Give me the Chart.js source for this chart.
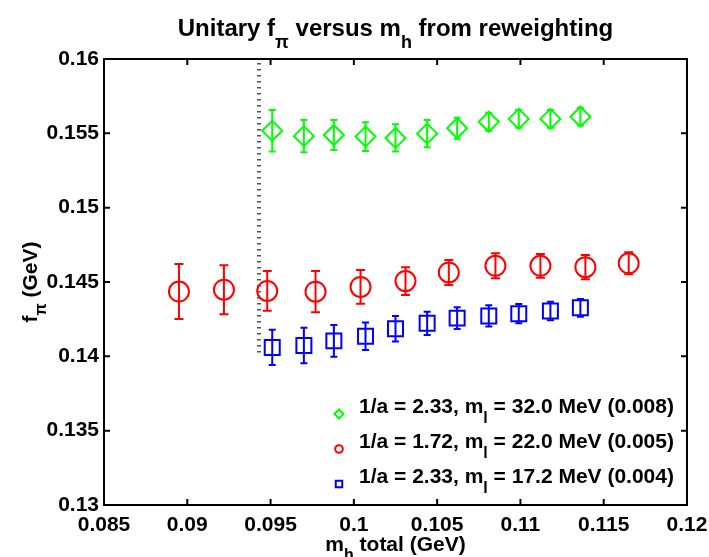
<!DOCTYPE html>
<html>
<head>
<meta charset="utf-8">
<title>Unitary f_pi versus m_h</title>
<script src="https://cdn.jsdelivr.net/npm/chart.js@4.4.0/dist/chart.umd.min.js"></script>
<style>
  html, body { margin: 0; padding: 0; background: #fff; }
</style>
</head>
<body>
<canvas id="fpiChart" width="709" height="557"></canvas>
<script>
// m_h total (GeV) for the two 1/a = 2.33 ensembles
var massA233 = [0.0951, 0.0970, 0.0988, 0.1007, 0.1025, 0.1044, 0.1062, 0.1081, 0.1099, 0.1118, 0.1136];
// m_h total (GeV) for the 1/a = 1.72 ensemble
var massA172 = [0.0895, 0.0922, 0.0948, 0.0977, 0.1004, 0.1031, 0.1057, 0.1085, 0.1112, 0.1139, 0.1165];

// f_pi (GeV) and errors
var fpiMl320 = [0.15517, 0.15481, 0.15489, 0.15478, 0.15469, 0.15498, 0.15534, 0.15578, 0.15597, 0.15597, 0.15612];
var errMl320 = [0.0014, 0.00109, 0.00101, 0.00097, 0.00092, 0.00092, 0.0007, 0.0006, 0.0006, 0.0006, 0.0006];
var fpiMl220 = [0.14436, 0.14448, 0.14440, 0.14435, 0.14467, 0.14506, 0.14564, 0.14609, 0.14609, 0.14600, 0.14626];
var errMl220 = [0.00185, 0.00165, 0.00134, 0.00139, 0.00114, 0.00093, 0.00084, 0.00084, 0.0008, 0.00082, 0.00074];
var fpiMl172 = [0.14060, 0.14073, 0.14104, 0.14135, 0.14185, 0.14222, 0.14257, 0.14272, 0.14287, 0.14305, 0.14326];
var errMl172 = [0.00118, 0.0012, 0.00107, 0.00092, 0.00086, 0.00078, 0.00073, 0.00072, 0.00065, 0.00062, 0.0006];

var legendLabels = [
  "1/a = 2.33, m_l = 32.0 MeV (0.008)",
  "1/a = 1.72, m_l = 22.0 MeV (0.005)",
  "1/a = 2.33, m_l = 17.2 MeV (0.004)"
];

var xTicks = [0.085, 0.09, 0.095, 0.1, 0.105, 0.11, 0.115, 0.12];
var yTicks = [0.13, 0.135, 0.14, 0.145, 0.15, 0.155, 0.16];

// dotted marker line
var cutMass = [0.0943, 0.0943];
var cutFpi = [0.14, 0.16];

var titleText = "Unitary f_\u03c0 versus m_h from reweighting";
var xTitleText = "m_h total (GeV)";
var yTitleText = "f_\u03c0 (GeV)";

var FONT = '"Liberation Sans", Arial, Helvetica, sans-serif';

function toPoints(xs, ys) {
  return xs.map(function (x, i) {
    return { x: x, y: ys[i] };
  });
}

function fmt(v) {
  return String(parseFloat(Number(v).toFixed(4)));
}

// text with "_x" meaning subscript x (tex style like matlab)
function drawRich(ctx, str, x, y, size, align, drop) {
  var parts = [];
  for (var i = 0; i < str.length; i++) {
    if (str[i] === "_" && i + 1 < str.length) {
      parts.push({ t: str[i + 1], sub: true });
      i++;
    } else if (parts.length && !parts[parts.length - 1].sub) {
      parts[parts.length - 1].t += str[i];
    } else {
      parts.push({ t: str[i], sub: false });
    }
  }
  var big = "bold " + size + "px " + FONT;
  var small = "bold " + Math.round(size * 0.75) + "px " + FONT;
  var total = 0;
  parts.forEach(function (p) {
    ctx.font = p.sub ? small : big;
    p.w = ctx.measureText(p.t).width;
    total += p.w;
  });
  var cx = align === "center" ? x - total / 2 : x;
  ctx.textAlign = "left";
  ctx.textBaseline = "alphabetic";
  parts.forEach(function (p) {
    ctx.font = p.sub ? small : big;
    ctx.fillText(p.t, cx, p.sub ? y + drop : y);
    cx += p.w;
  });
}

var errorBars = {
  id: "errorBars",
  beforeDatasetsDraw: function (chart) {
    var ctx = chart.ctx;
    var xs = chart.scales.x;
    var ys = chart.scales.y;

    // dotted vertical line
    ctx.save();
    ctx.strokeStyle = "#555";
    ctx.lineWidth = 4;
    ctx.setLineDash([1.5, 4.5]);
    ctx.beginPath();
    ctx.moveTo(Math.round(xs.getPixelForValue(cutMass[0])), ys.getPixelForValue(cutFpi[1]) + 4);
    ctx.lineTo(Math.round(xs.getPixelForValue(cutMass[1])), ys.getPixelForValue(cutFpi[0]));
    ctx.stroke();
    ctx.restore();

    chart.data.datasets.forEach(function (ds) {
      ctx.save();
      ctx.strokeStyle = ds.borderColor;
      ctx.lineWidth = 2;
      ds.data.forEach(function (p, j) {
        var px = xs.getPixelForValue(p.x);
        var top = ys.getPixelForValue(p.y + ds.errors[j]);
        var bot = ys.getPixelForValue(p.y - ds.errors[j]);
        ctx.beginPath();
        ctx.moveTo(px, top);
        ctx.lineTo(px, bot);
        ctx.moveTo(px - ds.capWidth, top);
        ctx.lineTo(px + ds.capWidth, top);
        ctx.moveTo(px - ds.capWidth, bot);
        ctx.lineTo(px + ds.capWidth, bot);
        ctx.stroke();
      });
      ctx.restore();
    });
  }
};

var frameAndText = {
  id: "frameAndText",
  afterDraw: function (chart) {
    var ctx = chart.ctx;
    var a = chart.chartArea;
    var xs = chart.scales.x;
    var ys = chart.scales.y;
    var tick = 6;

    ctx.save();
    ctx.strokeStyle = "#000";
    ctx.lineWidth = 2;
    ctx.strokeRect(a.left, a.top, a.right - a.left, a.bottom - a.top);
    ctx.beginPath();
    xTicks.forEach(function (v) {
      var px = xs.getPixelForValue(v);
      ctx.moveTo(px, a.bottom);
      ctx.lineTo(px, a.bottom - tick);
      ctx.moveTo(px, a.top);
      ctx.lineTo(px, a.top + tick);
    });
    yTicks.forEach(function (v) {
      var py = ys.getPixelForValue(v);
      ctx.moveTo(a.left, py);
      ctx.lineTo(a.left + tick, py);
      ctx.moveTo(a.right, py);
      ctx.lineTo(a.right - tick, py);
    });
    ctx.stroke();

    // legend, inside the axes at bottom right
    ctx.fillStyle = "#000";
    chart.data.datasets.forEach(function (ds, i) {
      var rowY = 414 + i * 35;
      ctx.save();
      ctx.strokeStyle = ds.borderColor;
      ctx.fillStyle = "rgba(0,0,0,0)";
      Chart.helpers.drawPoint(ctx, {
        pointStyle: ds.pointStyle,
        radius: ds.legendRadius,
        rotation: 0,
        borderWidth: 2
      }, 339, rowY);
      ctx.restore();
      drawRich(ctx, legendLabels[i], 359, rowY - 1, 21, "left", 10);
    });

    // titles
    drawRich(ctx, titleText, (a.left + a.right) / 2, 36, 24, "center", 12);
    drawRich(ctx, xTitleText, (a.left + a.right) / 2, 551, 21, "center", 9);
    ctx.save();
    ctx.translate(37, (a.top + a.bottom) / 2);
    ctx.rotate(-Math.PI / 2);
    drawRich(ctx, yTitleText, 0, 0, 21, "center", 9);
    ctx.restore();
    ctx.restore();
  }
};

var ctx = document.getElementById("fpiChart").getContext("2d");
var fpiChart = new Chart(ctx, {
  type: "scatter",
  data: {
    datasets: [
      {
        label: legendLabels[0],
        data: toPoints(massA233, fpiMl320),
        errors: errMl320,
        borderColor: "#00ff00",
        backgroundColor: "rgba(0,0,0,0)",
        pointStyle: "rectRot",
        pointRadius: 10,
        pointBorderWidth: 2,
        capWidth: 3.5,
        legendRadius: 4.5
      },
      {
        label: legendLabels[1],
        data: toPoints(massA172, fpiMl220),
        errors: errMl220,
        borderColor: "#ff0000",
        backgroundColor: "rgba(0,0,0,0)",
        pointStyle: "circle",
        pointRadius: 10,
        pointBorderWidth: 2,
        capWidth: 4.5,
        legendRadius: 3.8
      },
      {
        label: legendLabels[2],
        data: toPoints(massA233, fpiMl172),
        errors: errMl172,
        borderColor: "#0000ff",
        backgroundColor: "rgba(0,0,0,0)",
        pointStyle: "rect",
        pointRadius: 10.6,
        pointBorderWidth: 2,
        capWidth: 3.5,
        legendRadius: 4.6
      }
    ]
  },
  options: {
    responsive: false,
    animation: false,
    events: [],
    layout: { padding: { left: 0, right: 22, top: 59, bottom: 0 } },
    plugins: {
      legend: { display: false },
      title: { display: false },
      tooltip: { enabled: false }
    },
    scales: {
      x: {
        type: "linear",
        min: 0.085,
        max: 0.12,
        afterBuildTicks: function (s) {
          s.ticks = xTicks.map(function (v) { return { value: v }; });
        },
        afterFit: function (s) {
          s.height = 52;
          s.paddingLeft = 0;
          s.paddingRight = 0;
        },
        grid: { display: false, drawTicks: false },
        border: { display: false },
        ticks: {
          color: "#000",
          padding: 8,
          maxRotation: 0,
          autoSkip: false,
          font: { family: FONT, size: 21, weight: "bold" },
          callback: function (v) { return fmt(v); }
        }
      },
      y: {
        type: "linear",
        min: 0.13,
        max: 0.16,
        afterBuildTicks: function (s) {
          s.ticks = yTicks.map(function (v) { return { value: v }; });
        },
        afterFit: function (s) {
          s.width = 104;
          s.paddingTop = 0;
          s.paddingBottom = 0;
        },
        grid: { display: false, drawTicks: false },
        border: { display: false },
        ticks: {
          color: "#000",
          padding: 5,
          autoSkip: false,
          font: { family: FONT, size: 21, weight: "bold" },
          callback: function (v) { return fmt(v); }
        }
      }
    }
  },
  plugins: [errorBars, frameAndText]
});
</script>
</body>
</html>
